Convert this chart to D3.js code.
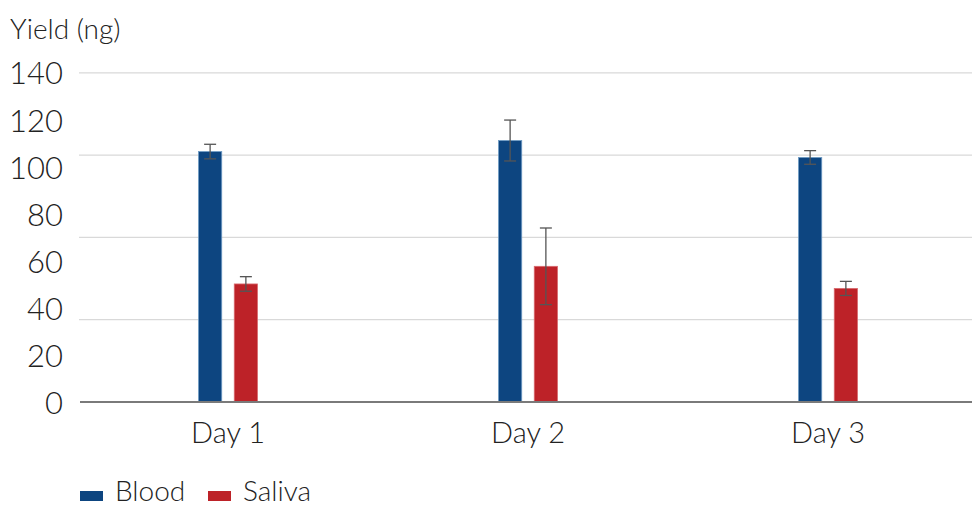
<!DOCTYPE html>
<html>
<head>
<meta charset="utf-8">
<script src="https://cdn.jsdelivr.net/npm/d3@7/dist/d3.min.js"></script>
<style>
  html, body { margin: 0; padding: 0; background: #fff; }
  svg { display: block; }
  svg text { font-family: Lato, "Open Sans", sans-serif; font-weight: 300; fill: #222; }
</style>
</head>
<body>
<div id="chart"></div>
<script>
/* data */
const days = ['Day 1', 'Day 2', 'Day 3'];
const series = ['Blood', 'Saliva'];
const bloodYield = [106.5, 111.2, 104.0];
const salivaYield = [50.2, 57.7, 48.3];
const bloodErr = [3.1, 8.7, 2.9];
const salivaErr = [3.1, 16.3, 3.0];
const yTicks = [0, 20, 40, 60, 80, 100, 120, 140];
const gridTicks = [35, 70, 105, 140];

const colors = { Blood: '#0d4580', Saliva: '#bd2228' };

const W = 972, H = 505;
const svg = d3.select('#chart').append('svg').attr('width', W).attr('height', H);

const x = d3.scaleBand().domain(days).range([78, 978]).paddingInner(0).paddingOuter(0);
const y = d3.scaleLinear().domain([0, 140]).range([402, 72.8]);
const xs = d3.scaleBand().domain(series).range([-29.5, 29.5]).paddingInner(0.35).paddingOuter(0);

const rows = days.map((d, i) => ({
  day: d,
  vals: [
    { s: 'Blood', v: bloodYield[i], e: bloodErr[i] },
    { s: 'Saliva', v: salivaYield[i], e: salivaErr[i] }
  ]
}));

/* gridlines */
svg.append('g').selectAll('line').data(gridTicks).join('line')
  .attr('x1', 79).attr('x2', W)
  .attr('y1', d => y(d)).attr('y2', d => y(d))
  .attr('stroke', '#d9d9d9').attr('stroke-width', 1.2);

/* y tick labels */
const yAxis = svg.append('g').attr('transform', 'translate(63,0)')
  .call(d3.axisLeft(y).tickValues(yTicks).tickSize(0).tickPadding(0));
yAxis.select('.domain').remove();
yAxis.selectAll('text')
  .style('font-size', '31px').attr('dy', '0.36em');

svg.append('text').attr('x', 10).attr('y', 39)
  .style('font-size', '28px').text('Yield (ng)');

/* bars */
const groups = svg.append('g').selectAll('g').data(rows).join('g')
  .attr('transform', d => `translate(${x(d.day) + x.bandwidth() / 2},0)`);

groups.selectAll('rect').data(d => d.vals).join('rect')
  .attr('x', d => xs(d.s)).attr('width', xs.bandwidth())
  .attr('y', d => y(d.v)).attr('height', d => y(0) - y(d.v))
  .attr('fill', d => colors[d.s])
  .attr('stroke', d => d.s === 'Blood' ? '#6f9cc4' : '#d86a6e').attr('stroke-width', 0.8);

/* error bars */
const eb = groups.selectAll('g.err').data(d => d.vals).join('g').attr('class', 'err')
  .attr('transform', d => `translate(${xs(d.s) + xs.bandwidth() / 2},0)`);
eb.append('line')
  .attr('y1', d => y(d.v + d.e)).attr('y2', d => y(d.v - d.e))
  .attr('stroke', '#555').attr('stroke-width', 1.3);
eb.append('line').attr('x1', -6).attr('x2', 6)
  .attr('y1', d => y(d.v + d.e)).attr('y2', d => y(d.v + d.e))
  .attr('stroke', '#555').attr('stroke-width', 1.3);
eb.append('line').attr('x1', -6).attr('x2', 6)
  .attr('y1', d => y(d.v - d.e)).attr('y2', d => y(d.v - d.e))
  .attr('stroke', '#555').attr('stroke-width', 1.3);

/* x axis */
svg.append('line').attr('x1', 80).attr('x2', W)
  .attr('y1', y(0)).attr('y2', y(0))
  .attr('stroke', '#7a7a7a').attr('stroke-width', 2);

const xAxis = svg.append('g').attr('transform', `translate(0,${y(0)})`)
  .call(d3.axisBottom(x).tickSize(0).tickPadding(0));
xAxis.select('.domain').remove();
xAxis.selectAll('text')
  .attr('y', 41).attr('dy', 0)
  .style('font-size', '29px');

/* legend */
const legend = svg.append('g').attr('transform', 'translate(80,491)');
const items = [{ s: 'Blood', dx: 0 }, { s: 'Saliva', dx: 128 }];
const li = legend.selectAll('g').data(items).join('g').attr('transform', d => `translate(${d.dx},0)`);
li.append('rect').attr('width', 23).attr('height', 10).attr('y', 0)
  .attr('fill', d => colors[d.s]);
li.append('text').attr('x', 35).attr('y', 10)
  .style('font-size', '28px').text(d => d.s);
</script>
</body>
</html>
